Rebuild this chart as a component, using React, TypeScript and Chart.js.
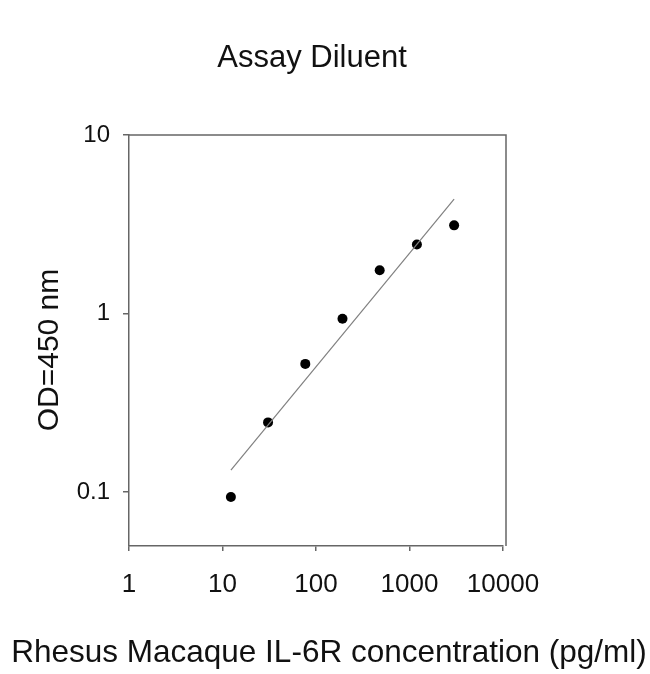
import { useEffect, useRef } from 'react';
import { Chart, registerables, Plugin } from 'chart.js';

Chart.register(...registerables);

// serial dilution standards (pg/ml) and measured OD
const concentrations = [12.3, 30.7, 76.8, 192, 480, 1200, 3000];
const odValues = [0.094, 0.246, 0.523, 0.935, 1.75, 2.44, 3.12];
// ends of the fitted power-law line
const fitX = [12.3, 3000];
const fitY = [0.133, 4.37];
const xTicks = [1, 10, 100, 1000, 10000];
const yTicks = [0.1, 1, 10];

const titleText = 'Assay Diluent';
const xTitle = 'Rhesus Macaque IL-6R concentration (pg/ml)';
const yTitle = 'OD=450 nm';

const FONT = '"Liberation Sans", Arial, sans-serif';
const AXIS = '#666';

// top/right frame lines and the three titles, placed like the original figure
const framePlugin: Plugin<'scatter'> = {
  id: 'frame',
  afterDraw(chart) {
    const { ctx, chartArea: a } = chart;
    ctx.save();
    ctx.strokeStyle = AXIS;
    ctx.lineWidth = 1.5;
    ctx.beginPath();
    ctx.moveTo(a.left, a.top);
    ctx.lineTo(a.right + 3, a.top);
    ctx.lineTo(a.right + 3, a.bottom);
    ctx.stroke();

    ctx.fillStyle = '#111';
    ctx.textAlign = 'center';
    ctx.textBaseline = 'alphabetic';
    ctx.font = `31px ${FONT}`;
    ctx.fillText(titleText, 312, 67);
    ctx.font = `31.5px ${FONT}`;
    ctx.fillText(xTitle, 329, 662);
    ctx.font = `30px ${FONT}`;
    ctx.translate(58, 350);
    ctx.rotate(-Math.PI / 2);
    ctx.fillText(yTitle, 0, 0);
    ctx.restore();
  },
};

const App = () => {
  const chartRef = useRef<HTMLCanvasElement>(null);
  const chartInstanceRef = useRef<Chart | null>(null);

  useEffect(() => {
    document.body.style.margin = '0';
    if (!chartRef.current) return;
    const ctx = chartRef.current.getContext('2d');
    if (!ctx) return;

    if (chartInstanceRef.current) {
      chartInstanceRef.current.destroy();
    }

    chartInstanceRef.current = new Chart(ctx, {
      type: 'scatter',
      data: {
        datasets: [
          {
            type: 'line',
            data: fitX.map((x, i) => ({ x, y: fitY[i] })),
            borderColor: '#808080',
            borderWidth: 1.2,
            pointRadius: 0,
            fill: false,
          },
          {
            type: 'scatter',
            data: concentrations.map((x, i) => ({ x, y: odValues[i] })),
            backgroundColor: '#000',
            borderColor: '#000',
            borderWidth: 0,
            pointRadius: 5,
          },
        ],
      },
      options: {
        animation: false,
        responsive: false,
        layout: { padding: { top: 135, right: 147, bottom: 68, left: 0 } },
        plugins: {
          legend: { display: false },
          tooltip: { enabled: false },
          title: { display: false },
        },
        scales: {
          x: {
            type: 'logarithmic',
            position: 'bottom',
            min: 1,
            max: 10000,
            afterBuildTicks: (s) => {
              s.ticks = xTicks.map((v) => ({ value: v }));
            },
            afterFit: (s) => {
              s.height = 60;
            },
            ticks: {
              callback: (v) => String(v),
              font: { family: FONT, size: 26 },
              color: '#111',
              padding: 18,
              maxRotation: 0,
              autoSkip: false,
            },
            grid: {
              display: true,
              drawOnChartArea: false,
              drawTicks: true,
              tickLength: 5,
              tickColor: AXIS,
              lineWidth: 1.5,
            },
            border: { display: true, color: AXIS, width: 1.5 },
          },
          y: {
            type: 'logarithmic',
            min: 0.05,
            max: 10,
            afterBuildTicks: (s) => {
              s.ticks = yTicks.map((v) => ({ value: v }));
            },
            afterFit: (s) => {
              s.width = 129;
            },
            ticks: {
              callback: (v) => String(v),
              font: { family: FONT, size: 24 },
              color: '#111',
              padding: 13,
              autoSkip: false,
            },
            grid: {
              display: true,
              drawOnChartArea: false,
              drawTicks: true,
              tickLength: 6,
              tickColor: AXIS,
              lineWidth: 1.5,
            },
            border: { display: true, color: AXIS, width: 1.5 },
          },
        },
      },
      plugins: [framePlugin],
    });

    return () => {
      if (chartInstanceRef.current) {
        chartInstanceRef.current.destroy();
        chartInstanceRef.current = null;
      }
    };
  }, []);

  return (
    <div style={{ width: 650, height: 674, background: '#fff' }}>
      <canvas ref={chartRef} width={650} height={674}></canvas>
    </div>
  );
};

export default App;
